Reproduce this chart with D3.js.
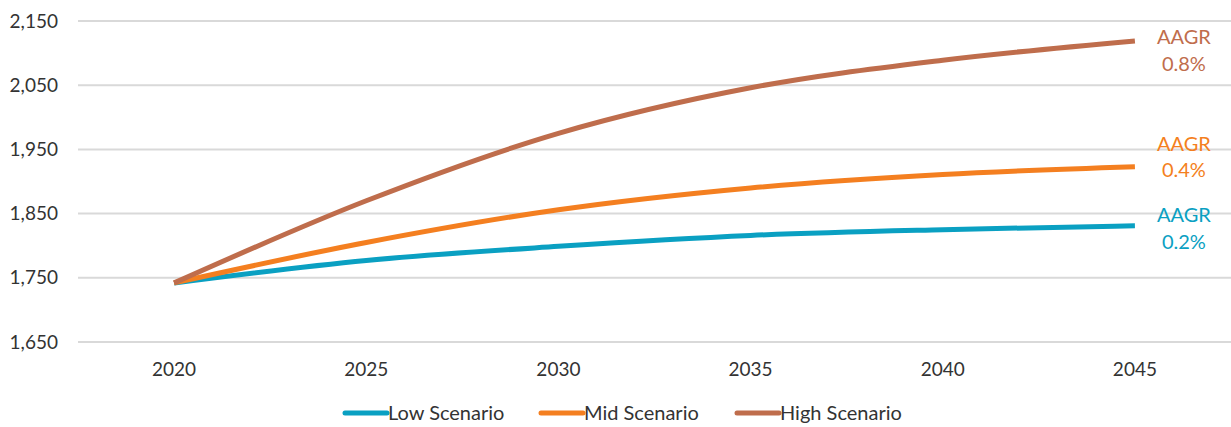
<!DOCTYPE html>
<html>
<head>
<meta charset="utf-8">
<script src="https://cdn.jsdelivr.net/npm/d3@7"></script>
<style>
  html, body { margin: 0; padding: 0; background: #fff; }
  svg text { font-family: Lato, "Open Sans", sans-serif; }
</style>
</head>
<body>
<svg id="chart" width="1231" height="427"></svg>
<script>
const years = [2020, 2025, 2030, 2035, 2040, 2045];
const lowScenario  = [1742, 1777, 1799, 1816, 1825, 1831];
const midScenario  = [1742, 1805, 1856, 1890, 1911, 1923];
const highScenario = [1742, 1870, 1975, 2046, 2089, 2119];
const yTicks = [1650, 1750, 1850, 1950, 2050, 2150];
const seriesNames = ["Low Scenario", "Mid Scenario", "High Scenario"];
const aagrLabels = ["0.2%", "0.4%", "0.8%"];
const colors = ["#0AA0C2", "#F47F20", "#BF6D4C"];

const series = [lowScenario, midScenario, highScenario];

(function () {
const svg = d3.select("#chart");
const pLeft = 78, pRight = 1231, pTop = 21, pBottom = 342;
const textColor = "#333333";

const x = d3.scaleBand().domain(years).range([pLeft, pRight]).padding(0);
const y = d3.scaleLinear().domain([1650, 2150]).range([pBottom, pTop]);

// gridlines
svg.append("g").selectAll("line").data(yTicks).join("line")
  .attr("x1", pLeft).attr("x2", pRight)
  .attr("y1", d => y(d)).attr("y2", d => y(d))
  .attr("stroke", "#D9D9D9").attr("stroke-width", 2);

// y axis labels
const yAxis = d3.axisLeft(y).tickValues(yTicks).tickFormat(d3.format(",")).tickSize(0).tickPadding(0);
const gy = svg.append("g").attr("transform", "translate(58,0)").call(yAxis);
gy.select(".domain").remove();
gy.selectAll("text").attr("font-size", 19).attr("fill", textColor)
  .attr("font-family", "Lato, 'Open Sans', sans-serif");

// x axis labels
const xAxis = d3.axisBottom(x).tickSize(0).tickPadding(0);
const gx = svg.append("g").attr("transform", "translate(0,362)").call(xAxis);
gx.select(".domain").remove();
gx.selectAll("text").attr("font-size", 19).attr("fill", textColor)
  .attr("font-family", "Lato, 'Open Sans', sans-serif");

// lines
const line = d3.line()
  .x((d, i) => x(years[i]) + x.bandwidth() / 2)
  .y(d => y(d))
  .curve(d3.curveMonotoneX);

series.forEach((s, k) => {
  svg.append("path").datum(s)
    .attr("d", line)
    .attr("fill", "none")
    .attr("stroke", colors[k])
    .attr("stroke-width", 5)
    .attr("stroke-linecap", "butt");
});

// AAGR labels
const lastX = x(years[years.length - 1]) + x.bandwidth() / 2 + 49;
const aagrY = [[215, 242], [144, 170], [37, 64]];
series.forEach((s, k) => {
  const g = svg.append("g").attr("fill", colors[k]).attr("font-size", 20).attr("text-anchor", "middle");
  g.append("text").attr("x", lastX).attr("y", aagrY[k][0]).attr("dy", "0.35em").text("AAGR");
  g.append("text").attr("x", lastX).attr("y", aagrY[k][1]).attr("dy", "0.35em").text(aagrLabels[k]);
});

// legend
const legendX = [345, 541, 737];
const legendY = 413;
seriesNames.forEach((name, k) => {
  const g = svg.append("g");
  g.append("line").attr("x1", legendX[k]).attr("x2", legendX[k] + 42)
    .attr("y1", legendY).attr("y2", legendY)
    .attr("stroke", colors[k]).attr("stroke-width", 5).attr("stroke-linecap", "round");
  g.append("text").attr("x", legendX[k] + 43).attr("y", legendY).attr("dy", "0.35em")
    .attr("font-size", 20).attr("fill", textColor).text(name);
});
})();
</script>
</body>
</html>
